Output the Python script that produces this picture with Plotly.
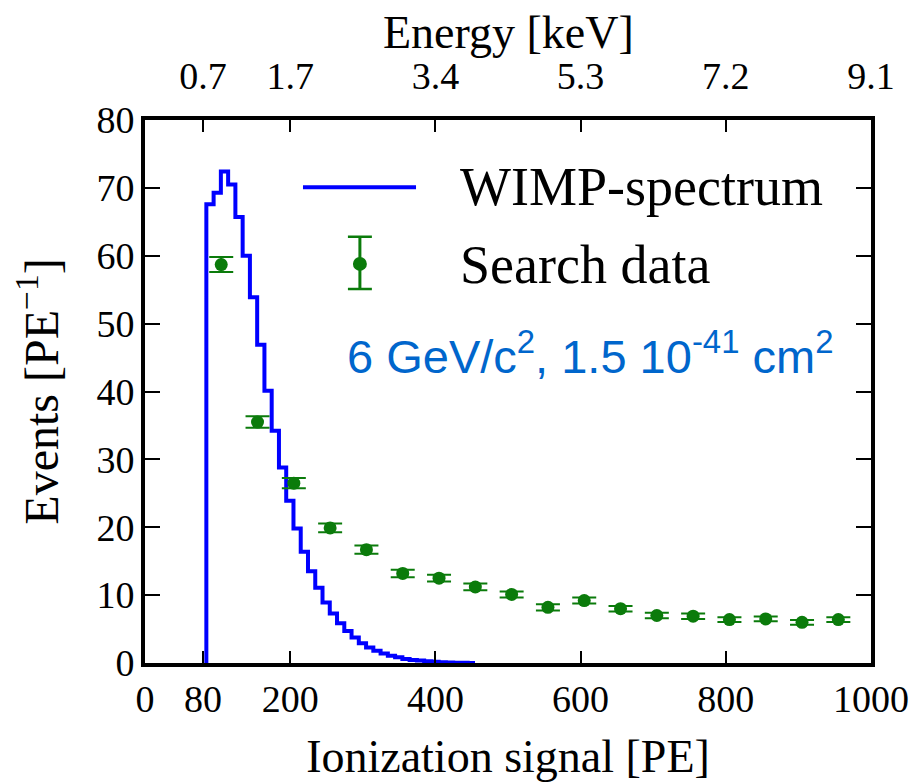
import plotly.graph_objects as go

# WIMP spectrum histogram (10 PE bins), left edges and heights
wimp_edges = [84.5, 94.5, 104.5, 114.5, 124.5, 134.5, 144.5, 154.5, 164.5, 174.5,
              184.5, 194.5, 204.5, 214.5, 224.5, 234.5, 244.5, 254.5, 264.5, 274.5,
              284.5, 294.5, 304.5, 314.5, 324.5, 334.5, 344.5, 354.5, 364.5, 374.5,
              384.5, 394.5, 404.5, 414.5, 424.5, 434.5, 444.5]
wimp_vals = [67.6, 69.3, 72.4, 70.5, 65.7, 60.0, 53.9, 46.9, 40.1, 34.2,
             28.8, 23.9, 19.8, 16.4, 13.5, 11.1, 8.9, 7.3, 5.85, 4.7,
             3.75, 2.9, 2.3, 1.8, 1.4, 1.07, 0.83, 0.6, 0.45, 0.35,
             0.25, 0.18, 0.12, 0.08, 0.05, 0.03, 0.0]

# Search data
data_x = [105, 155, 205, 255, 305, 355, 405, 455, 505, 555,
          605, 655, 705, 755, 805, 855, 905, 955]
data_y = [58.7, 35.5, 26.5, 19.9, 16.7, 13.2, 12.5, 11.2, 10.1, 8.2,
          9.2, 8.0, 7.0, 6.9, 6.4, 6.5, 6.0, 6.4]
data_err = [1.1, 0.85, 0.75, 0.65, 0.6, 0.55, 0.5, 0.5, 0.45, 0.45,
            0.45, 0.4, 0.4, 0.4, 0.35, 0.35, 0.35, 0.35]

x_ticks = [0, 80, 200, 400, 600, 800, 1000]
top_ticks = [80, 200, 400, 600, 800, 1000]
energy_labels = ["0.7", "1.7", "3.4", "5.3", "7.2", "9.1"]
y_ticks = [0, 10, 20, 30, 40, 50, 60, 70, 80]

BLUE = "#0000FF"
GREEN = "#0b7b0b"
SERIF = "Liberation Serif"

step_x = [wimp_edges[0]] + wimp_edges + [wimp_edges[-1] + 10]
step_y = [0] + wimp_vals + [wimp_vals[-1]]

fig = go.Figure()
fig.add_trace(go.Scatter(x=step_x, y=step_y, mode="lines", line=dict(color=BLUE, width=4, shape="hv"),
                         name="WIMP-spectrum", showlegend=False, hoverinfo="skip"))
fig.add_trace(go.Scatter(x=data_x, y=data_y, mode="markers", name="Search data", showlegend=False,
                         marker=dict(color=GREEN, size=13),
                         error_y=dict(type="data", array=data_err, width=12, thickness=2, color=GREEN)))
# trace so the top (energy) axis is rendered
fig.add_trace(go.Scatter(x=top_ticks, y=[None] * len(top_ticks), xaxis="x2", mode="markers",
                         showlegend=False, hoverinfo="skip"))

# Custom legend
lx0, lx1, ly = 217.6, 373.3, 70.1
fig.add_shape(type="line", x0=lx0, x1=lx1, y0=ly, y1=ly, line=dict(color=BLUE, width=4))
ex, ey, etop, ebot, cw = 296, 58.8, 62.8, 55.1, 16.5
fig.add_shape(type="line", x0=ex, x1=ex, y0=ebot, y1=etop, line=dict(color=GREEN, width=3))
fig.add_shape(type="line", x0=ex - cw, x1=ex + cw, y0=etop, y1=etop, line=dict(color=GREEN, width=2.5))
fig.add_shape(type="line", x0=ex - cw, x1=ex + cw, y0=ebot, y1=ebot, line=dict(color=GREEN, width=2.5))
fig.add_shape(type="circle", x0=ex - 9.6, x1=ex + 9.6, y0=ey - 1.03, y1=ey + 1.03,
              fillcolor=GREEN, line=dict(color=GREEN, width=0))
fig.add_annotation(x=431, y=70.1, text="WIMP-spectrum", showarrow=False, xanchor="left", yanchor="middle",
                   font=dict(family=SERIF, size=54, color="black"))
fig.add_annotation(x=431, y=58.7, text="Search data", showarrow=False, xanchor="left", yanchor="middle",
                   font=dict(family=SERIF, size=54, color="black"))
fig.add_annotation(x=275.5, y=45.6, text="6 GeV/c<sup>2</sup>, 1.5 10<sup>-41</sup> cm<sup>2</sup>",
                   showarrow=False, xanchor="left", yanchor="middle",
                   font=dict(family="Liberation Sans", size=47, color="#0066CC"))
# top axis title
fig.add_annotation(x=0.5, y=1.162, xref="paper", yref="paper", text="Energy [keV]", showarrow=False,
                   xanchor="center", yanchor="middle", font=dict(family=SERIF, size=46, color="black"))

axis_font = dict(family=SERIF, size=38, color="black")
title_font = dict(family=SERIF, size=46, color="black")
# page body has an 8px default margin: figure is sized so that it fills the 922x782 window
fig.update_layout(
    width=914, height=774,
    margin=dict(l=137, r=51, t=112, b=119),
    paper_bgcolor="white", plot_bgcolor="white",
    xaxis=dict(range=[0, 1000], tickvals=x_ticks, ticks="inside", ticklen=12, tickwidth=2,
               tickcolor="black", showline=True, linewidth=4, linecolor="black", mirror="ticks",
               showgrid=False, zeroline=False, tickfont=axis_font, automargin=False,
               ticklabelstandoff=-1,
               title=dict(text="Ionization signal [PE]", font=title_font, standoff=23)),
    xaxis2=dict(range=[0, 1000], overlaying="x", side="top", tickvals=top_ticks, ticktext=energy_labels,
                ticks="", showline=False, showgrid=False, zeroline=False, tickfont=axis_font,
                ticklabelstandoff=22, automargin=False),
    yaxis=dict(range=[0, 80], tickvals=y_ticks, ticks="inside", ticklen=15, tickwidth=2,
               tickcolor="black", showline=True, linewidth=4, linecolor="black", mirror="ticks",
               showgrid=False, zeroline=False, tickfont=axis_font, ticklabelstandoff=-1, automargin=False,
               title=dict(text="Events [PE<sup>−1</sup>]", font=dict(family=SERIF, size=48, color="black"),
                          standoff=25)),
)

fig.write_html("out.html")
